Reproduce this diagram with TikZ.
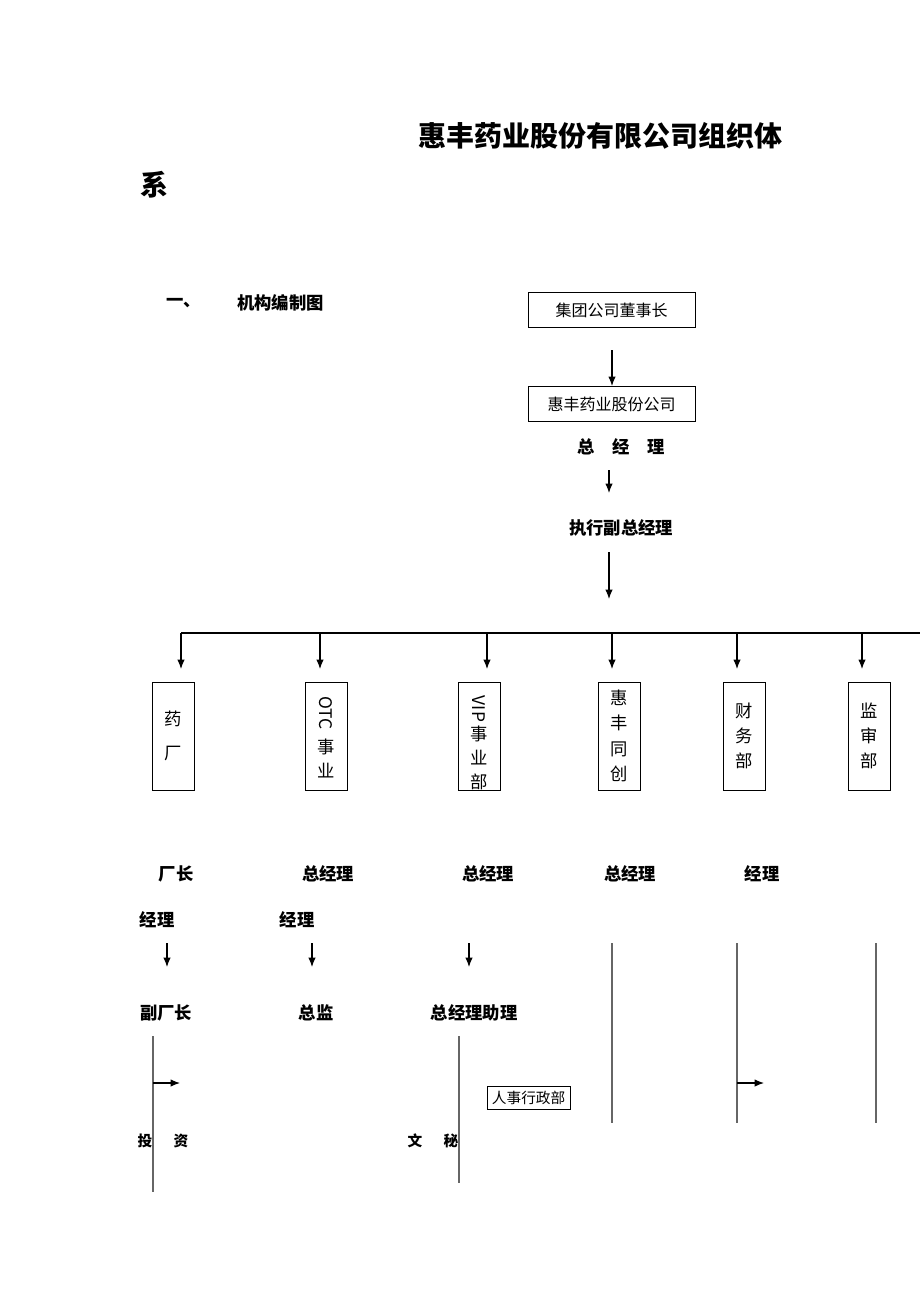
\documentclass[tikz,border=0pt]{standalone}
\usepackage{fontspec}
\setmainfont{Noto Sans CJK SC}
\usetikzlibrary{arrows.meta}
\begin{document}
\begin{tikzpicture}[x=0.75pt,y=-0.75pt,>={Latex[length=7pt,width=5.5pt]}]
\tikzset{
  lbl/.style={font=\bfseries\fontsize{13}{15}\selectfont,inner sep=0pt},
  dept/.style={draw,minimum width=31.5pt,minimum height=81pt,inner sep=0pt,font=\fontsize{13}{19}\selectfont,align=center},
  topbox/.style={draw,minimum width=125pt,minimum height=26.5pt,inner sep=1pt,font=\fontsize{12}{14}\selectfont,anchor=north west},
  thin/.style={draw=gray!80!black,line width=0.9pt}
}
\useasboundingbox (0,0) rectangle (920,1302);
% title
\node[anchor=west,font=\bfseries\fontsize{21}{24}\selectfont,inner sep=0pt] (title) at (418,136) {惠丰药业股份有限公司组织体};
\node[anchor=west,font=\bfseries\fontsize{21}{24}\selectfont,inner sep=0pt] (title2) at (140,185) {系};
\node[lbl,anchor=west] (num) at (166,303) {一、};
\node[lbl,anchor=west] (sub) at (237,303) {机构编制图};
% top chain
\node[topbox] (board) at (528,292) {\raisebox{-9pt}{集团公司董事长}};
\node[topbox] (co) at (528,386) {\raisebox{-9pt}{惠丰药业股份公司}};
\node[lbl] (gm) at (621,447) {总\quad 经\quad 理};
\node[lbl] (evp) at (621,528) {执行副总经理};
\coordinate (b1) at (612,350);
\draw[->,thick] (b1) -- (co.north -| b1);
\coordinate (g1) at (609,470);
\coordinate (g2) at (609,493);
\draw[->,thick] (g1) -- (g2);
\coordinate (e1) at (609,552);
\coordinate (bus) at (609,599);
\draw[->,thick] (e1) -- (bus);
\coordinate (busL) at (181,633);
\coordinate (busR) at (920,633);
\draw[thick] (busL) -- (busR);
% departments
\node[dept] (d1) at (173,736) {药\\[6pt]厂};
\node[dept] (d2) at (326,736) {};
\node[rotate=-90,font=\fontsize{13}{15}\selectfont,inner sep=0pt] (otc) at (326,713) {OTC};
\node[font=\fontsize{13}{18}\selectfont,align=center,inner sep=0pt] (otc2) at (326,758) {事\\业};
\node[dept] (d3) at (479,736) {};
\node[rotate=-90,font=\fontsize{13}{15}\selectfont,inner sep=0pt] (vip) at (479,709) {VIP};
\node[font=\fontsize{13}{18}\selectfont,align=center,inner sep=0pt] (vip2) at (479,758) {事\\业\\部};
\node[dept] (d4) at (619,736) {惠\\丰\\同\\创};
\node[dept] (d5) at (744,736) {财\\务\\部};
\node[dept] (d6) at (869,736) {监\\审\\部};
\foreach \x/\d in {181/d1,320/d2,487/d3,612/d4,737/d5,862/d6}
  \draw[->,thick] (\x,633) -- (\x,669);
% second level
\node[lbl] (f1) at (176,874) {厂长};
\node[lbl] (f2) at (328,874) {总经理};
\node[lbl] (f3) at (488,874) {总经理};
\node[lbl] (f4) at (630,874) {总经理};
\node[lbl] (f5) at (762,874) {经理};
\node[lbl] (m1) at (157,920) {经理};
\node[lbl] (m2) at (297,920) {经理};
\node[lbl] (s1) at (166,1013) {副厂长};
\node[lbl] (s2) at (316,1013) {总监};
\node[lbl] (s3) at (474,1013) {总经理助理};
\foreach \x in {167,312,469}
  \draw[->,thick] (\x,943) -- (\x,967);
\foreach \x in {612,737,876}
  \draw[thin] (\x,943) -- (\x,1123);
% third level
\draw[thin] (153,1036) -- (153,1192);
\draw[->,thick] (153,1083) -- (180,1083);
\draw[thin] (459,1036) -- (459,1183);
\draw[->,thick] (737,1083) -- (764,1083);
\node[draw,minimum width=62pt,minimum height=17pt,anchor=north west,inner sep=0pt,font=\fontsize{11}{12}\selectfont] (hr) at (487,1086) {\raisebox{-5pt}{人事行政部}};
\node[font=\bfseries\fontsize{11}{13}\selectfont,inner sep=0pt] (inv) at (163,1141) {投\hspace{16pt}资};
\node[font=\bfseries\fontsize{11}{13}\selectfont,inner sep=0pt] (sec) at (433,1141) {文\hspace{16pt}秘};
\end{tikzpicture}
\end{document}
